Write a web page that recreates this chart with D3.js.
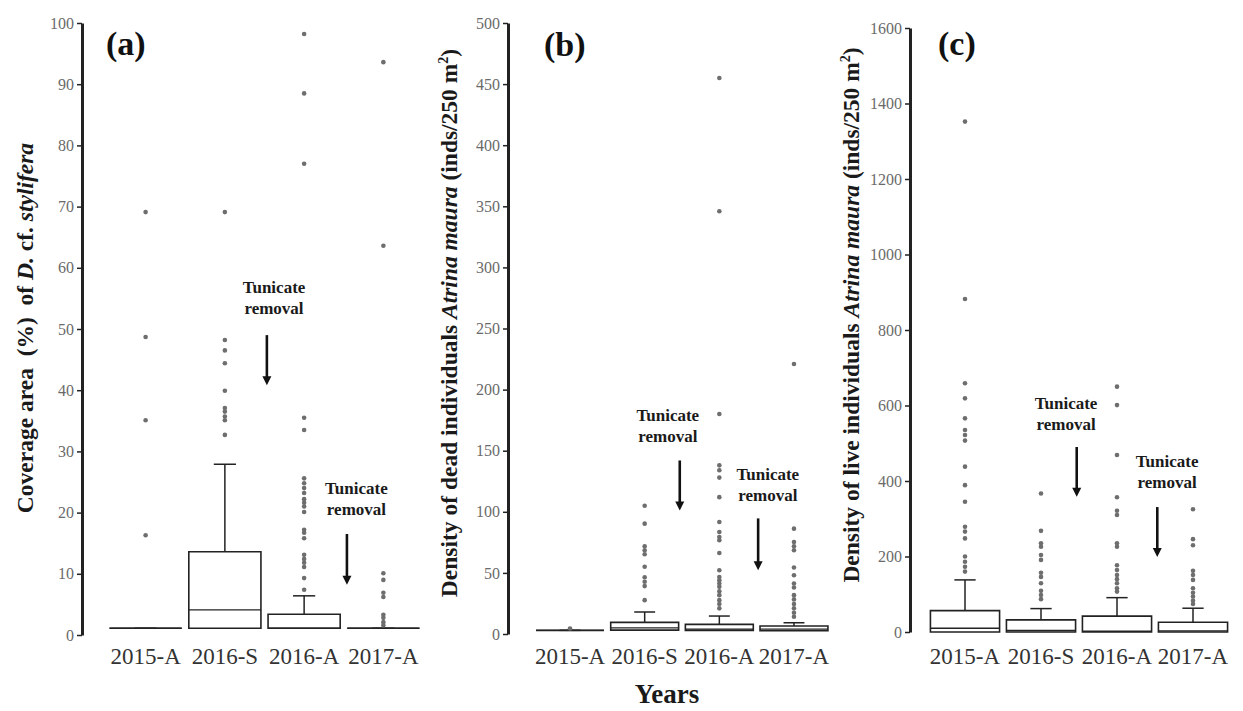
<!DOCTYPE html>
<html>
<head>
<meta charset="utf-8">
<script src="https://cdn.jsdelivr.net/npm/d3@7"></script>
<style>
  html, body { margin: 0; padding: 0; background: #fff; }
  svg, svg text { font-family: "Liberation Serif", "Times New Roman", Times, "DejaVu Serif", serif; }
  svg { display: block; }
</style>
</head>
<body>
<svg id="chart" width="1243" height="711"></svg>
<script>
// ---- shared categories ----
const categories = ["2015-A", "2016-S", "2016-A", "2017-A"];

// ---- (a) coverage area (%) of D. cf. stylifera ----
const coverTicks   = [0, 10, 20, 30, 40, 50, 60, 70, 80, 90, 100];
const coverLow     = [1.1, 1.1, 1.1, 1.1];
const coverQ1      = [1.1, 1.1, 1.1, 1.1];
const coverMedian  = [1.1, 4.1, 1.1, 1.1];
const coverQ3      = [1.1, 13.6, 3.4, 1.1];
const coverHigh    = [1.1, 27.9, 6.4, 1.1];
const coverOutliers = [
  [16.3, 35.1, 48.7, 69.1],
  [32.7, 35.1, 35.7, 36.5, 37.1, 39.9, 44.4, 46.5, 48.2, 69.1],
  [7.4, 9.3, 11.1, 11.8, 12.4, 13.1, 15.8, 16.7, 17.2, 20.1, 21, 21.6, 22.2, 23.2, 24, 24.8, 25.6, 33.5, 35.5, 77, 88.5, 98.2],
  [1.6, 2.1, 2.8, 3.3, 6.2, 6.9, 9, 10.1, 63.6, 93.6]
];

// ---- (b) density of dead Atrina maura ----
const deadTicks   = [0, 50, 100, 150, 200, 250, 300, 350, 400, 450, 500];
const deadLow     = [3, 3.2, 3, 2.7];
const deadQ1      = [3, 3.2, 3, 2.7];
const deadMedian  = [3, 5, 4, 4];
const deadQ3      = [3, 9.5, 7.9, 6.5];
const deadHigh    = [3, 18, 14.7, 9.2];
const deadOutliers = [
  [4.5],
  [27.7, 39.2, 42.8, 46.4, 55, 65.3, 68.5, 71.8, 90.3, 105],
  [21, 24.5, 27.7, 31.8, 35, 38.6, 41.3, 44, 46.7, 52.2, 66.3, 76.7, 79.4, 83.5, 91.6, 112, 128, 134, 138, 180, 346, 455],
  [14.1, 17.4, 21, 24.5, 28.3, 31.8, 38.1, 41.3, 48.1, 54.4, 68.5, 71.8, 75.3, 86.2, 221]
];

// ---- (c) density of live Atrina maura ----
const liveTicks   = [0, 200, 400, 600, 800, 1000, 1200, 1400, 1600];
const liveLow     = [0, 0, 0, 0];
const liveQ1      = [0, 0, 0, 0];
const liveMedian  = [10, 4, 2, 3];
const liveQ3      = [56.5, 32, 42, 26];
const liveHigh    = [138, 62, 91, 63];
const liveOutliers = [
  [160, 173, 186, 200, 248, 266, 279, 345, 389, 438, 507, 522, 535, 566, 619, 659, 882, 1352],
  [87, 98, 109, 129, 146, 157, 191, 204, 226, 235, 268, 367],
  [107, 116, 129, 140, 151, 164, 177, 226, 235, 310, 321, 357, 469, 601, 650],
  [74, 83, 94, 104, 116, 138, 151, 162, 230, 246, 325]
];

const svg = d3.select("#chart");
const INK = "#222";
const SERIF = "'Liberation Serif', 'Times New Roman', Times, 'DejaVu Serif', serif";

const panels = [
  {
    label: "(a)", labelX: 106, labelY: 55,
    axisX: 82, yTop: 23, yBottom: 635, xRange: [106, 423], max: 100,
    ticks: coverTicks, low: coverLow, q1: coverQ1, median: coverMedian, q3: coverQ3, high: coverHigh, outliers: coverOutliers,
    titleX: 33, titleY: 328,
    title: [["Coverage area  (%)  of ", "normal"], ["D.", "italic"], [" cf. ", "normal"], ["stylifera", "italic"]],
    notes: [
      { cat: 1, textFrac: 0.62, textValue: 55.9, arrowFrac: 0.53, from: 49, to: 40.8 },
      { cat: 2, textFrac: 0.66, textValue: 23.0, arrowFrac: 0.54, from: 16.5, to: 8.2 }
    ]
  },
  {
    label: "(b)", labelX: 544, labelY: 56,
    axisX: 508, yTop: 23, yBottom: 634, xRange: [532.7, 831.3], max: 500,
    ticks: deadTicks, low: deadLow, q1: deadQ1, median: deadMedian, q3: deadQ3, high: deadHigh, outliers: deadOutliers,
    titleX: 457, titleY: 323,
    title: [["Density of dead individuals ", "normal"], ["Atrina maura", "italic"], [" (inds/250 m", "normal"], ["2", "sup"], [")", "normal"]],
    notes: [
      { cat: 1, textFrac: 0.31, textValue: 174.5, arrowFrac: 0.47, from: 142, to: 101 },
      { cat: 2, textFrac: 0.65, textValue: 126.4, arrowFrac: 0.52, from: 94.6, to: 52.2 }
    ]
  },
  {
    label: "(c)", labelX: 938, labelY: 55,
    axisX: 910, yTop: 28, yBottom: 632, xRange: [927, 1231], max: 1600,
    ticks: liveTicks, low: liveLow, q1: liveQ1, median: liveMedian, q3: liveQ3, high: liveHigh, outliers: liveOutliers,
    titleX: 859, titleY: 315,
    title: [["Density of live individuals ", "normal"], ["Atrina maura", "italic"], [" (inds/250 m", "normal"], ["2", "sup"], [")", "normal"]],
    notes: [
      { cat: 1, textFrac: 0.33, textValue: 591, arrowFrac: 0.47, from: 490, to: 358 },
      { cat: 2, textFrac: 0.66, textValue: 437, arrowFrac: 0.53, from: 331, to: 199 }
    ]
  }
];

function drawPanel(p) {
  const y = d3.scaleLinear().domain([0, p.max]).range([p.yBottom, p.yTop]);
  const x = d3.scaleBand().domain(categories).range(p.xRange).padding(0);
  const step = x.step();
  const bw = step * 0.91;
  const cap = step * 0.28;
  const cx = c => x(c) + step / 2;

  const g = svg.append("g").attr("font-family", SERIF);

  // value axis
  const ax = g.append("g")
    .attr("transform", `translate(${p.axisX},0)`)
    .call(d3.axisLeft(y).tickValues(p.ticks).tickFormat(d3.format("d"))
      .tickSize(5).tickSizeOuter(0).tickPadding(3));
  ax.attr("font-family", SERIF);
  ax.select(".domain").attr("stroke", INK).attr("stroke-width", 3);
  ax.selectAll(".tick line").attr("stroke", INK).attr("stroke-width", 1.5);
  ax.selectAll(".tick text")
    .attr("font-size", 16).attr("fill", "#6a6a6a");

  // category labels
  g.selectAll(".cat").data(categories).enter().append("text")
    .attr("x", d => cx(d)).attr("y", 664)
    .attr("text-anchor", "middle")
    .attr("font-size", 23).attr("fill", "#333")
    .text(d => d);

  // boxes
  categories.forEach((c, i) => {
    const xc = cx(c);
    const bg = g.append("g");
    // whiskers
    bg.append("line").attr("x1", xc).attr("x2", xc).attr("y1", y(p.q3[i])).attr("y2", y(p.high[i]))
      .attr("stroke", INK).attr("stroke-width", 1.5);
    bg.append("line").attr("x1", xc - cap / 2).attr("x2", xc + cap / 2).attr("y1", y(p.high[i])).attr("y2", y(p.high[i]))
      .attr("stroke", INK).attr("stroke-width", 1.5);
    bg.append("line").attr("x1", xc).attr("x2", xc).attr("y1", y(p.q1[i])).attr("y2", y(p.low[i]))
      .attr("stroke", INK).attr("stroke-width", 1.5);
    // box
    const x0 = xc - bw / 2, x1 = xc + bw / 2;
    bg.append("path")
      .attr("d", `M${x0},${y(p.q1[i])}H${x1}V${y(p.q3[i])}H${x0}Z`)
      .attr("fill", "#fff").attr("stroke", INK).attr("stroke-width", 1.6);
    // median
    bg.append("line").attr("x1", x0).attr("x2", x1).attr("y1", y(p.median[i])).attr("y2", y(p.median[i]))
      .attr("stroke", INK).attr("stroke-width", 1.3);
    // outliers
    bg.selectAll("circle").data(p.outliers[i]).enter().append("circle")
      .attr("cx", xc).attr("cy", d => y(d)).attr("r", 2.3)
      .attr("fill", "#6e6e6e");
  });

  // panel letter
  g.append("text").attr("x", p.labelX).attr("y", p.labelY)
    .attr("font-size", 34).attr("font-weight", "bold").attr("fill", "#111")
    .text(p.label);

  // y-axis title
  const t = g.append("text")
    .attr("transform", `translate(${p.titleX},${p.titleY}) rotate(-90)`)
    .attr("text-anchor", "middle")
    .attr("font-size", 23.5).attr("font-weight", "bold").attr("fill", "#1a1a1a")
    .style("white-space", "pre");
  p.title.forEach(([s, kind]) => {
    const ts = t.append("tspan").text(s);
    if (kind === "italic") ts.attr("font-style", "italic");
    if (kind === "sup") ts.attr("font-size", 14).attr("dy", -9);
    else if (kind === "normal" && s === ")") ts.attr("dy", 9);
  });

  // removal annotations
  p.notes.forEach(n => {
    const base = cx(categories[n.cat]);
    const tx = base + n.textFrac * step;
    const ty = y(n.textValue);
    const ng = g.append("g").attr("font-size", 17).attr("font-weight", "bold").attr("fill", "#1a1a1a").attr("text-anchor", "middle");
    ng.append("text").attr("x", tx).attr("y", ty).text("Tunicate");
    ng.append("text").attr("x", tx).attr("y", ty + 21).text("removal");
    const axp = base + n.arrowFrac * step;
    const y1 = y(n.from), y2 = y(n.to);
    g.append("line").attr("x1", axp).attr("x2", axp).attr("y1", y1).attr("y2", y2 - 8)
      .attr("stroke", "#111").attr("stroke-width", 2.6);
    g.append("path")
      .attr("d", `M${axp - 4.5},${y2 - 9}L${axp + 4.5},${y2 - 9}L${axp},${y2}Z`)
      .attr("fill", "#111");
  });
}

panels.forEach(drawPanel);

// shared x-axis title
svg.append("text").attr("x", 667).attr("y", 703)
  .attr("font-family", SERIF)
  .attr("text-anchor", "middle")
  .attr("font-size", 27).attr("font-weight", "bold").attr("fill", "#1a1a1a")
  .text("Years");
</script>
</body>
</html>
